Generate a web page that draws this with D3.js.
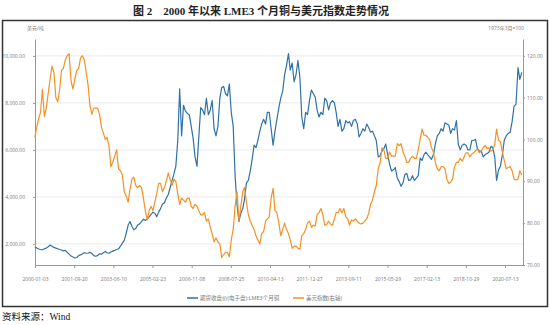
<!DOCTYPE html>
<html>
<head>
<meta charset="utf-8">
<script src="https://cdn.jsdelivr.net/npm/d3@7/dist/d3.min.js"></script>
<style>
  body { margin: 0; background: #fff; }
  text { font-family: "Open Sans", "Noto Sans CJK SC", sans-serif; }
</style>
</head>
<body>
<svg id="chart" width="550" height="325"></svg>
<script>
// x axis labels (trading-day axis, evenly spaced)
var tickLabels = ['2000-01-03', '2001-09-20', '2003-06-10', '2005-02-23', '2006-11-08',
    '2008-07-25', '2010-04-13', '2011-12-27', '2013-09-11', '2015-05-29',
    '2017-02-13', '2018-10-29', '2020-07-13'];
var lastDate = '2021-04-20';

// monthly readings from 2000-01
var copper = [
    1870, 1820, 1780, 1760, 1745, 1790, 1820, 1880, 1950, 1900, 1850, 1820,
    1790, 1760, 1740, 1700, 1720, 1640, 1560, 1480, 1440, 1400, 1420, 1500,
    1530, 1580, 1620, 1600, 1610, 1640, 1590, 1500, 1470, 1500, 1580, 1560,
    1620, 1680, 1620, 1600, 1650, 1690, 1720, 1760, 1790, 1900, 2030, 2150,
    2450, 2800, 2950, 2750, 2600, 2650, 2800, 2850, 2950, 3050, 3000, 3050,
    3150, 3250, 3350, 3300, 3150, 3350, 3500, 3700, 3750, 3950, 4100, 4400,
    4700, 5000, 5300, 6400, 8600, 6600, 7900, 7650, 7550, 7500, 7000, 6500,
    5700, 5300, 6500, 7800, 7700, 7500, 8200, 7500, 7700, 8100, 6900, 6600,
    7000, 8200, 8650, 8700, 8400, 8300, 8800, 7600, 7000, 4900, 3700, 2950,
    3300, 3500, 3900, 4600, 4700, 5100, 5600, 6200, 6100, 6400, 6800, 7100,
    7300, 7100, 7600, 7600, 6900, 6200, 6800, 7300, 7800, 8200, 8500, 9200,
    9600, 10100, 9400, 9700, 8900, 9200, 9800, 9100, 7400, 6900, 7600, 7500,
    8100, 8550, 8400, 8250, 7700, 7400, 7600, 7500, 8200, 8100, 7700, 8000,
    8100, 8000, 7600, 7000, 7300, 6800, 6900, 7250, 7150, 7200, 7000, 7250,
    7300, 7100, 6550, 6700, 6900, 6800, 7100, 6950, 6750, 6800, 6600, 6400,
    5700, 5750, 5950, 6050, 6250, 5800, 5400, 5100, 5150, 5250, 4800, 4650,
    4450, 4600, 4950, 5000, 4700, 4720, 4900, 4700, 4800, 4900, 5650, 5550,
    5800, 5900, 5800, 5700, 5600, 5800, 6250, 6600, 6700, 6900, 6800, 7150,
    7100, 7050, 6700, 6900, 6850, 7250, 6250, 6000, 6200, 6250, 6200, 6000,
    6000, 6400, 6400, 6450, 6050, 5950, 5950, 5700, 5800, 5850, 5900, 6150,
    6100, 5700, 4700, 5150, 5300, 5800, 6400, 6600, 6700, 6750, 7200, 7850,
    7950, 9500, 9000, 9300
];
var dxy = [
    100.5, 103, 105, 106.5, 112, 105.5, 107.5, 111, 114.5, 117.5, 116, 110,
    109, 112, 116.5, 117, 119, 120, 120.5, 114, 112, 114.5, 116.5, 117,
    119.5, 120, 119, 116, 113, 108, 106, 107.5, 107.5, 107.5, 106, 103,
    101.5, 100, 100.5, 98.5, 93.5, 94.5, 96, 97.5, 93, 92.5, 91.5, 87.5,
    86.5, 85, 88, 90.5, 91, 89, 88.5, 89, 88.5, 86, 83, 80.8,
    83, 84, 83, 85, 87, 89.5, 89.5, 87.5, 88.5, 90, 92, 90.5,
    89, 90.5, 90, 87, 84.5, 86, 85.5, 85, 86, 86, 84, 83.5,
    84.5, 84, 83, 82, 82, 82.5, 80.5, 81, 79, 77.5, 75.5, 76.5,
    75.5, 75, 71.8, 72.5, 73, 73, 72, 76, 78.5, 84, 87.5, 80.5,
    84, 87.5, 88.5, 85, 82, 80.5, 79.5, 78.5, 77, 76, 75, 77.5,
    78, 80.5, 81, 81.5, 86, 88.3, 83, 82.5, 80, 77, 78.5, 80,
    78.5, 77.5, 76, 74, 74.5, 74.5, 74, 73.8, 77, 77.5, 78.5, 80,
    80.5, 79, 79.5, 79.3, 82, 82.5, 83.5, 82, 79.5, 79.7, 80.5, 79.8,
    79.5, 81, 82.5, 82.5, 83.5, 82.5, 83.5, 81.5, 81, 79.5, 80.8, 80.5,
    81, 80.5, 80, 79.8, 80, 80.5, 81, 82.3, 84.5, 85.5, 87.5, 89,
    93, 94.5, 98, 97.5, 95.5, 95.5, 97, 96, 96, 96, 99, 98.5,
    99, 97, 96, 94.5, 94.5, 95.5, 96, 95.5, 95.5, 97.5, 100, 102.5,
    101, 101, 100.5, 100, 98, 97, 94.5, 93, 92.5, 93.5, 93.5, 93,
    90.5, 89.5, 89.8, 90.5, 93.5, 94.5, 94.5, 95.5, 94.8, 95.8, 96.8, 96.8,
    95.8, 96.5, 96.8, 97.3, 97.7, 96.8, 97.2, 98, 98.6, 97.8, 98, 97.2,
    97.5, 98.8, 102.5, 99.8, 99.5, 97, 95, 93, 93.3, 93.5, 92.5, 90.5,
    90.3, 90.5, 92.5, 91.5
];
var leftTicks = [2000, 4000, 6000, 8000, 10000];
var rightTicks = [70, 80, 90, 100, 110, 120];
var seriesNames = ['期货收盘价(电子盘):LME3个月铜', '美元指数(右轴)'];
var colors = ['#2f72a6', '#f39125'];

(function() {
    var parse = d3.timeParse('%Y-%m-%d');
    var months = copper.map(function(d, i) { return new Date(2000, i, 1); });

    var svg = d3.select('#chart');
    var x0 = 35, x1 = 523, y0 = 39, y1 = 265;

    // piecewise time scale: labels sit at equal steps on the trading-day axis
    var step = (505 - x0) / (tickLabels.length - 1);
    var x = d3.scaleTime()
        .domain(tickLabels.concat([lastDate]).map(parse))
        .range(tickLabels.map(function(d, i) { return x0 + i * step; }).concat([x1]));
    var yL = d3.scaleLinear().domain([1100, 10720]).range([y1, y0]);
    var yR = d3.scaleLinear().domain([70, 124]).range([y1, y0]);

    // title and frame
    svg.append('text')
        .attr('x', 261).attr('y', 15)
        .attr('text-anchor', 'middle')
        .style('font-family', '"Liberation Serif", "Noto Sans CJK SC", serif')
        .style('font-size', '11px')
        .style('font-weight', 'bold')
        .attr('fill', '#222')
        .text('图 2　2000 年以来 LME3 个月铜与美元指数走势情况');

    svg.append('rect')
        .attr('x', 2.5).attr('y', 20.5)
        .attr('width', 545).attr('height', 286)
        .attr('fill', 'none')
        .attr('stroke', '#333')
        .attr('stroke-width', 1.5);

    svg.append('text')
        .attr('x', 2).attr('y', 320)
        .style('font-family', '"Liberation Serif", "Noto Sans CJK SC", serif')
        .style('font-size', '9.5px')
        .attr('fill', '#111')
        .text('资料来源：Wind');

    // unit labels
    svg.append('text').attr('x', 27).attr('y', 30)
        .style('font-size', '5px').attr('fill', '#777').text('美元/吨');
    svg.append('text').attr('x', 524).attr('y', 30).attr('text-anchor', 'end')
        .style('font-size', '5px').attr('fill', '#777').text('1973年3月=100');

    // grid
    svg.append('g').selectAll('line')
        .data(leftTicks)
      .enter().append('line')
        .attr('x1', x0).attr('x2', x1)
        .attr('y1', function(d) { return yL(d); })
        .attr('y2', function(d) { return yL(d); })
        .attr('stroke', '#e6e6e6')
        .attr('stroke-width', 0.8);

    function styleAxis(g) {
        g.select('.domain').attr('stroke', '#999');
        g.selectAll('.tick line').attr('stroke', '#999');
        g.selectAll('.tick text').attr('fill', '#777').style('font-size', '5px');
    }

    svg.append('g')
        .attr('transform', 'translate(0,' + y1 + ')')
        .call(d3.axisBottom(x)
            .tickValues(tickLabels.map(parse))
            .tickFormat(d3.timeFormat('%Y-%m-%d'))
            .tickSize(3).tickSizeOuter(0).tickPadding(9))
        .call(styleAxis);

    svg.append('g')
        .attr('transform', 'translate(' + x0 + ',0)')
        .call(d3.axisLeft(yL)
            .tickValues(leftTicks)
            .tickFormat(d3.format(',.2f'))
            .tickSize(2).tickSizeOuter(0).tickPadding(8))
        .call(styleAxis);

    svg.append('g')
        .attr('transform', 'translate(' + x1 + ',0)')
        .call(d3.axisRight(yR)
            .tickValues(rightTicks)
            .tickFormat(d3.format('.2f'))
            .tickSize(2).tickSizeOuter(0).tickPadding(2))
        .call(styleAxis);

    // series
    var lineL = d3.line()
        .x(function(d, i) { return x(months[i]); })
        .y(function(d) { return yL(d); });
    var lineR = d3.line()
        .x(function(d, i) { return x(months[i]); })
        .y(function(d) { return yR(d); });

    svg.append('path')
        .datum(copper)
        .attr('d', lineL)
        .attr('fill', 'none')
        .attr('stroke', colors[0])
        .attr('stroke-width', 1.2)
        .attr('stroke-linejoin', 'round');

    svg.append('path')
        .datum(dxy)
        .attr('d', lineR)
        .attr('fill', 'none')
        .attr('stroke', colors[1])
        .attr('stroke-width', 1.2)
        .attr('stroke-linejoin', 'round');

    // legend
    var legendX = [187, 293];
    var legend = svg.append('g').selectAll('g')
        .data(seriesNames)
      .enter().append('g')
        .attr('transform', function(d, i) { return 'translate(' + legendX[i] + ',298)'; });
    legend.append('line')
        .attr('x1', 0).attr('x2', 11)
        .attr('stroke', function(d, i) { return colors[i]; })
        .attr('stroke-width', 1.5);
    legend.append('text')
        .attr('x', 13).attr('y', 2)
        .style('font-size', '5.5px')
        .attr('fill', '#777')
        .text(function(d) { return d; });
})();
</script>
</body>
</html>
